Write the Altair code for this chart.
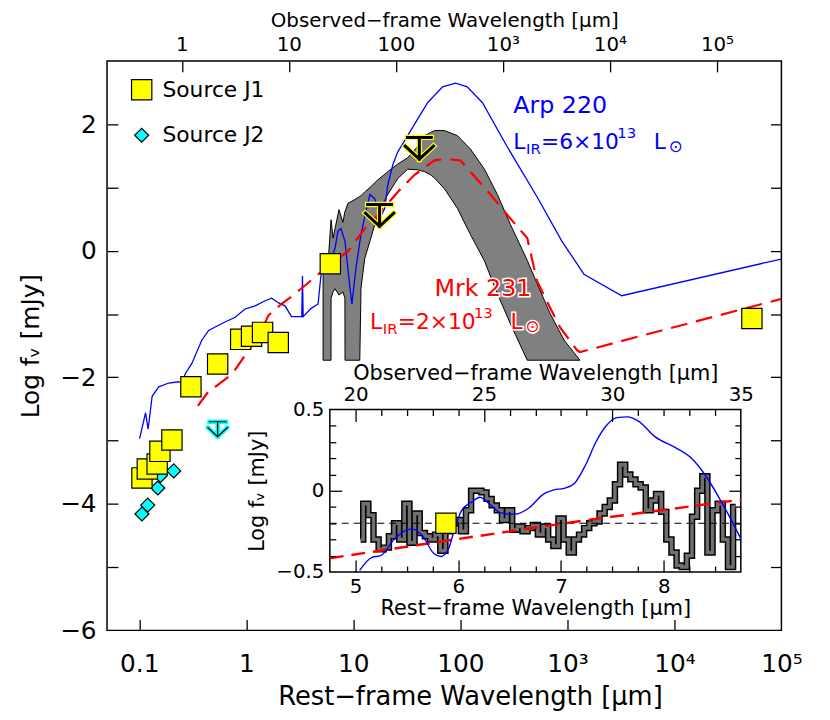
import altair as alt
import pandas as pd

ONE_PLUS_Z = 4.0
FONT = "DejaVu Sans"
W, H = 681, 575

# ---------------- main panel data ----------------
j1_wl = [0.106, 0.119, 0.147, 0.156, 0.202, 0.304, 0.540, 0.887, 1.12, 1.42, 1.99, 6.1, 5.3e4]
j1_logf = [-3.59, -3.45, -3.37, -3.17, -2.99, -2.15, -1.79, -1.40, -1.35, -1.29, -1.45, -0.205, -1.07]
j2_wl = [0.106, 0.120, 0.149, 0.158, 0.21]
j2_logf = [-4.16, -4.02, -3.75, -3.55, -3.48]

ul_j1_wl = [17.6, 41.4]
ul_j1_logf = [0.56, 1.62]
ul_j2_wl = [0.54]
ul_j2_logf = [-2.82]

arp_wl = [0.1007, 0.1146, 0.121, 0.132, 0.152, 0.189, 0.234, 0.249, 0.270, 0.310, 0.385, 0.445,
          0.592, 0.787, 0.975, 1.21, 1.50, 1.73, 1.99, 2.30, 2.65, 3.30, 3.35, 3.40, 4.04, 4.69,
          5.00, 5.81, 6.75, 7.19, 7.67, 8.36, 9.31, 9.71, 10.6, 11.8, 13.1, 14.3, 15.9, 17.7,
          19.7, 21.0, 23.4, 26.0, 32.2, 39.9, 49.5, 68.2, 90.2, 116, 161, 275, 522, 891, 1429,
          3221, 1e5]
arp_logf = [-2.97, -2.56, -2.82, -2.30, -2.15, -2.09, -2.07, -2.09, -1.94, -1.78, -1.41, -1.26,
            -1.15, -1.05, -0.92, -0.87, -0.79, -0.75, -0.82, -0.87, -1.04, -1.04, -0.40, -1.04,
            -0.91, -0.84, -0.37, -0.27, 0.04, 0.31, 0.35, 0.15, -0.59, -0.84, -0.27, 0.26, 0.62,
            0.89, 0.82, 0.51, 0.67, 1.04, 1.36, 1.56, 1.82, 2.08, 2.34, 2.59, 2.65, 2.59, 2.34,
            1.64, 0.85, 0.15, -0.37, -0.71, -0.13]

mrk_wl = [0.353, 0.445, 0.513, 0.682, 0.787, 1.05, 1.39, 1.61, 2.14, 2.85, 4.37, 6.02, 8.91,
          12.8, 18.1, 26.0, 37.4, 57.4, 71.1, 100, 124, 191, 293, 422, 522, 690, 855, 1230,
          1312, 1e5]
mrk_logf = [-2.45, -2.22, -2.15, -1.99, -1.88, -1.57, -1.26, -1.02, -0.84, -0.68, -0.42, -0.21,
            -0.01, 0.35, 0.62, 0.93, 1.20, 1.43, 1.45, 1.43, 1.25, 0.89, 0.51, 0.20, -0.48,
            -0.90, -1.21, -1.57, -1.60, -0.76]

band_wl = [5.22, 5.81, 6.19, 6.20, 6.47, 6.75, 7.35, 8.0, 8.35, 8.37, 8.91, 10.6, 11.5, 11.8,
           12.8, 14.3, 16.9, 19.7, 21.0, 26.0, 32.2, 39.9, 46.4, 52.7, 57.4, 71.1, 94.0, 124,
           168, 222, 293, 422, 522, 690, 931, 1312]
band_hi = [-0.30, -0.20, 0.49, 0.49, 0.20, 0.35, 0.65, 0.45, 0.62, 0.62, 0.75, 0.82, 0.86, 0.87,
           0.93, 1.00, 1.12, 1.21, 1.25, 1.37, 1.47, 1.65, 1.82, 1.87, 1.90, 1.90, 1.82, 1.61,
           1.29, 0.89, 0.42, -0.15, -0.52, -0.99, -1.41, -1.73]
band_lo = [-1.73, -1.73, -1.73, -0.75, -0.65, -0.60, -0.70, -0.65, -0.75, -1.73, -1.73, -1.73,
           -1.73, -0.59, -0.12, 0.15, 0.57, 0.80, 0.89, 1.14, 1.29, 1.28, 1.25, 1.20, 1.15, 0.98,
           0.67, 0.26, -0.16, -0.68, -1.15, -1.73, -1.73, -1.73, -1.73, -1.73]

rest_ticks = [0.1, 1, 10, 100, 1e3, 1e4, 1e5]
obs_ticks = [1, 10, 100, 1e3, 1e4, 1e5]
y_labels = [-6, -4, -2, 0, 2]
y_ticks = [-5, -4, -3, -2, -1, 0, 1, 2]

# annotation anchors (wavelength, log flux)
arp_name_pos = (312, 2.29)
arp_lum_pos = (312, 1.715)
mrk_name_pos = (57.4, -0.60)
mrk_lum_pos = (14.3, -1.13)

# ---------------- inset data ----------------
spec_wl = [5.05, 5.10, 5.15, 5.20, 5.25, 5.30, 5.35, 5.40, 5.45, 5.50, 5.55, 5.60, 5.65, 5.70,
           5.75, 5.80, 5.85, 5.90, 5.95, 6.00, 6.05, 6.10, 6.15, 6.20, 6.25, 6.30, 6.35, 6.40,
           6.45, 6.50, 6.55, 6.60, 6.65, 6.70, 6.75, 6.80, 6.85, 6.90, 6.95, 7.00, 7.05, 7.10,
           7.15, 7.20, 7.25, 7.30, 7.35, 7.40, 7.45, 7.50, 7.55, 7.60, 7.65, 7.70, 7.75, 7.80,
           7.85, 7.90, 7.95, 8.00, 8.05, 8.10, 8.15, 8.20, 8.25, 8.30, 8.35, 8.40, 8.45, 8.50,
           8.55, 8.60, 8.65, 8.70]
spec_logf = [-0.30, -0.08, -0.15, -0.30, -0.36, -0.35, -0.28, -0.20, -0.30, -0.08, -0.32, -0.14,
             -0.26, -0.28, -0.30, -0.27, -0.37, -0.25, -0.20, -0.18, -0.25, -0.12, 0.00, 0.00,
             -0.01, -0.05, -0.09, -0.12, -0.18, -0.12, -0.24, -0.22, -0.25, -0.23, -0.21, -0.27,
             -0.22, -0.30, -0.34, -0.17, -0.30, -0.38, -0.30, -0.27, -0.23, -0.20, -0.19, -0.14,
             -0.10, -0.06, 0.04, 0.16, 0.10, 0.07, 0.04, 0.02, -0.12, -0.06, -0.02, -0.13, -0.30,
             -0.38, -0.46, -0.47, -0.40, -0.16, 0.00, 0.09, -0.38, -0.12, -0.08, -0.30, -0.47,
             -0.10]

inset_arp_wl = [5.04, 5.16, 5.245, 5.38, 5.485, 5.55, 5.66, 5.76, 5.83, 5.90, 5.97, 6.03, 6.14,
                6.21, 6.31, 6.41, 6.55, 6.69, 6.82, 6.93, 7.03, 7.13, 7.24, 7.34, 7.44, 7.545,
                7.65, 7.75, 7.92, 8.10, 8.27, 8.40, 8.54, 8.645, 8.75]
inset_arp_logf = [-0.49, -0.41, -0.40, -0.295, -0.245, -0.235, -0.285, -0.385, -0.405, -0.365,
                  -0.225, -0.125, -0.065, -0.04, -0.085, -0.135, -0.145, -0.105, -0.025, 0.005,
                  0.015, 0.045, 0.16, 0.30, 0.40, 0.45, 0.455, 0.43, 0.33, 0.27, 0.20, 0.10,
                  -0.045, -0.165, -0.295]
inset_mrk_wl = [4.75, 6.5, 7.2, 8.75]
inset_mrk_logf = [-0.415, -0.25, -0.185, -0.055]
inset_level = -0.20
inset_j1_wl = [5.88]
inset_j1_logf = [-0.20]

inset_rest_domain = [4.75, 8.75]
inset_logf_domain = [-0.5, 0.5]
inset_rest_labels = [5, 6, 7, 8]
inset_obs_labels = [20, 25, 30, 35]
inset_minor = [4.75 + 0.25 * k for k in range(1, 16)]
inset_y_labels = [-0.5, 0, 0.5]
inset_y_minor = [round(-0.4 + 0.1 * k, 2) for k in range(9)]

# inset placement inside the main plot area (pixels)
INSET_X = [225, 640]
INSET_Y = [516, 352]

# ---------------- scales ----------------
XS = alt.Scale(type="log", domain=[0.05, 1e5], nice=False)
YS = alt.Scale(domain=[-6, 3], nice=False, zero=False)
IXS = alt.Scale(domain=inset_rest_domain, range=INSET_X, nice=False, zero=False)
IYS = alt.Scale(domain=inset_logf_domain, range=INSET_Y, nice=False, zero=False)

sup = "datum.value {m} < 500 ? format(round(datum.value {m}), 'd') : datum.value {m} < 5000 ? '10³' : datum.value {m} < 50000 ? '10⁴' : '10⁵'"
bottom_expr = "datum.value < 0.5 ? '0.1' : " + sup.format(m="")
top_expr = sup.format(m="* %g" % ONE_PLUS_Z)

TICK = dict(labels=False, domain=False, ticks=True, tickColor="black", tickWidth=1.3,
            title=None, grid=False, zindex=1)
LAB = dict(ticks=False, tickSize=0, domain=False, grid=False, zindex=1, labelOverlap=False,
           labelFlush=False, labelColor="black", titleColor="black", labelFont=FONT,
           titleFont=FONT, titleFontWeight="normal")

ax_bottom = alt.Axis(orient="bottom", values=rest_ticks, labelExpr=bottom_expr, labelFontSize=25,
                     labelPadding=22, title="Rest−frame Wavelength [μm]", titleFontSize=26,
                     titlePadding=7, titleX=W / 2 + 26, **LAB)
ax_bottom_t = alt.Axis(orient="top", offset=-H, values=rest_ticks[:-1], tickSize=11, **TICK)
top_vals = [o / ONE_PLUS_Z for o in obs_ticks]
ax_top = alt.Axis(orient="top", values=top_vals, labelExpr=top_expr, labelFontSize=20,
                  labelPadding=7, title="Observed−frame Wavelength [μm]", titleFontSize=20,
                  titleY=-35, titleBaseline="alphabetic", **LAB)
ax_top_t = alt.Axis(orient="bottom", offset=-H, values=top_vals, tickSize=11, **TICK)
ax_left = alt.Axis(orient="left", values=y_labels, labelFontSize=25, labelPadding=11,
                   title="Log fᵥ [mJy]", titleFontSize=25, titlePadding=16, **LAB)
ax_left_t = alt.Axis(orient="right", offset=-W, values=y_ticks, tickSize=11, **TICK)
ax_right_t = alt.Axis(orient="left", offset=-W, values=y_ticks, tickSize=11, **TICK)

# ---------------- main layers ----------------
band_df = pd.DataFrame({"wl": band_wl, "hi": band_hi, "lo": band_lo})
band = alt.Chart(band_df).mark_area(fill="#808080", stroke="black", strokeWidth=1, opacity=1,
                                    fillOpacity=1).encode(
    x=alt.X("wl:Q", scale=XS, axis=ax_bottom),
    y=alt.Y("hi:Q", scale=YS, axis=ax_left),
    y2="lo:Q",
)

arp = alt.Chart(pd.DataFrame({"wl": arp_wl, "v": arp_logf})).mark_line(
    color="#0000ff", strokeWidth=1.3, clip=True).encode(
    x=alt.X("wl:Q", scale=XS, axis=ax_bottom_t),
    y=alt.Y("v:Q", scale=YS, axis=ax_left_t),
)

mrk = alt.Chart(pd.DataFrame({"wl": mrk_wl, "v": mrk_logf})).mark_line(
    color="#ff0000", strokeWidth=2.2, strokeDash=[17, 9], clip=True).encode(
    x=alt.X("wl:Q", scale=XS, axis=ax_top),
    y=alt.Y("v:Q", scale=YS, axis=ax_right_t),
)

src_domain = ["Source J1", "Source J2"]
pts_df = pd.DataFrame({
    "wl": j2_wl + j1_wl,
    "v": j2_logf + j1_logf,
    "src": ["Source J2"] * len(j2_wl) + ["Source J1"] * len(j1_wl),
})
leg = alt.Legend(orient="none", legendX=24, legendY=18, title=None, labelFontSize=22,
                 labelFont=FONT, labelColor="black", symbolSize=230, symbolStrokeColor="black",
                 symbolStrokeWidth=1.2, rowPadding=22, labelOffset=10, padding=0)
pts = alt.Chart(pts_df).mark_point(filled=True, opacity=1, stroke="black", strokeWidth=1.2).encode(
    x=alt.X("wl:Q", scale=XS, axis=ax_top_t),
    y=alt.Y("v:Q", scale=YS, axis=None),
    color=alt.Color("src:N", scale=alt.Scale(domain=src_domain, range=["#ffff00", "#00ffff"]), legend=leg),
    shape=alt.Shape("src:N", scale=alt.Scale(domain=src_domain, range=["square", "diamond"]), legend=leg),
    size=alt.Size("src:N", scale=alt.Scale(domain=src_domain, range=[420, 200]), legend=None),
)

ARROW = "M -1.1 -1 L 1.1 -1 M 0 -1 L 0 1 M -1.3 -0.2 L 0 1 L 1.3 -0.2"


def limit_layer(wl, lf, size, color, width):
    return alt.Chart(pd.DataFrame({"wl": wl, "v": lf})).mark_point(
        shape=ARROW, size=size, filled=False, opacity=1, stroke=color, strokeWidth=width,
        strokeCap="square").encode(
        x=alt.X("wl:Q", scale=XS, axis=None), y=alt.Y("v:Q", scale=YS, axis=None))


limits = [
    limit_layer(ul_j1_wl, ul_j1_logf, 484, "#ffff00", 5.5),
    limit_layer(ul_j1_wl, ul_j1_logf, 484, "black", 3),
    limit_layer(ul_j2_wl, ul_j2_logf, 225, "#00ffff", 4.5),
    limit_layer(ul_j2_wl, ul_j2_logf, 225, "black", 1.2),
]


def text_layer(pos, text, color, size, dx=0, dy=0, halo=False):
    df = pd.DataFrame({"wl": [pos[0]], "v": [pos[1]], "t": [text]})
    kw = dict(align="left", baseline="middle", dx=dx, dy=dy, font=FONT, fontSize=size)
    if halo:
        kw.update(color="white", stroke="white", strokeWidth=3)
    else:
        kw.update(color=color)
    return alt.Chart(df).mark_text(**kw).encode(
        x=alt.X("wl:Q", scale=XS, axis=None), y=alt.Y("v:Q", scale=YS, axis=None), text="t:N")


def lum_pieces(pos, coeff, color, halo=False):
    pieces = [("L", 0, 0, 22), ("IR", 13, 7, 15), ("=%s×10" % coeff, 28, 0, 22),
              ("13", 105, -9, 15), ("L", 142, 0, 22), ("⊙", 157, 5, 17)]
    return [text_layer(pos, t, color, s, dx, dy, halo) for t, dx, dy, s in pieces]


texts = [text_layer(arp_name_pos, "Arp 220", "#0000ff", 24)]
texts += lum_pieces(arp_lum_pos, "6", "#0000ff")
texts += [text_layer(mrk_name_pos, "Mrk 231", "#ff0000", 24, halo=True),
          text_layer(mrk_name_pos, "Mrk 231", "#ff0000", 24)]
texts += lum_pieces(mrk_lum_pos, "2", "#ff0000", halo=True)
texts += lum_pieces(mrk_lum_pos, "2", "#ff0000")

main = alt.layer(band, arp, mrk, *limits, pts, *texts).resolve_axis(x="independent", y="independent")

# ---------------- inset layers ----------------
iax_bottom = alt.Axis(orient="bottom", offset=-(H - INSET_Y[0]),
                      values=inset_rest_labels, labelFontSize=20, labelPadding=5,
                      title="Rest−frame Wavelength [μm]", titleFontSize=21, titlePadding=1, **LAB)
iax_bottom_t = alt.Axis(orient="top", offset=-INSET_Y[0], values=inset_minor,
                        tickSize={"condition": {"test": "abs(datum.value - round(datum.value)) < 0.001", "value": 12}, "value": 6},
                        **TICK)
inset_top_vals = [o / ONE_PLUS_Z for o in inset_obs_labels]
iax_top = alt.Axis(orient="top", offset=-INSET_Y[1], values=inset_top_vals,
                   labelExpr="format(round(datum.value * %g), 'd')" % ONE_PLUS_Z,
                   labelFontSize=20, labelPadding=5, title="Observed−frame Wavelength [μm]",
                   titleFontSize=21, titlePadding=1, **LAB)
iax_top_t = alt.Axis(orient="bottom", offset=-(H - INSET_Y[1]), values=inset_minor,
                     tickSize={"condition": {"test": "abs(datum.value * %g / 5 - round(datum.value * %g / 5)) < 0.001" % (ONE_PLUS_Z, ONE_PLUS_Z), "value": 12}, "value": 6},
                     **TICK)
iax_left = alt.Axis(orient="left", offset=-INSET_X[0], values=inset_y_labels,
                    labelExpr="datum.value == 0 ? '0' : format(datum.value, '.1f')",
                    labelFontSize=20, labelPadding=6, title="Log fᵥ [mJy]", titleFontSize=21,
                    titlePadding=8, **LAB)
y_major = {"condition": {"test": "abs(datum.value * 2 - round(datum.value * 2)) < 0.001", "value": 12}, "value": 6}
iax_left_t = alt.Axis(orient="right", offset=-(W - INSET_X[0]), values=inset_y_minor, tickSize=y_major, **TICK)
iax_right_t = alt.Axis(orient="left", offset=-INSET_X[1], values=inset_y_minor, tickSize=y_major, **TICK)

box_df = pd.DataFrame({"x0": [inset_rest_domain[0]], "x1": [inset_rest_domain[1]],
                       "y0": [inset_logf_domain[0]], "y1": [inset_logf_domain[1]]})
box = alt.Chart(box_df).mark_rect(fill="white", stroke="black", strokeWidth=1.5).encode(
    x=alt.X("x0:Q", scale=IXS, axis=iax_bottom), x2="x1:Q",
    y=alt.Y("y0:Q", scale=IYS, axis=iax_left), y2="y1:Q",
)

spec_df = pd.DataFrame({"wl": spec_wl, "v": spec_logf})
spec_black = alt.Chart(spec_df).mark_line(interpolate="step", color="black", strokeWidth=6.5).encode(
    x=alt.X("wl:Q", scale=IXS, axis=iax_bottom_t), y=alt.Y("v:Q", scale=IYS, axis=iax_left_t))
spec_gray = alt.Chart(spec_df).mark_line(interpolate="step", color="#707070", strokeWidth=3.5).encode(
    x=alt.X("wl:Q", scale=IXS, axis=iax_top), y=alt.Y("v:Q", scale=IYS, axis=iax_right_t))

level_df = pd.DataFrame({"wl": inset_rest_domain, "v": [inset_level, inset_level]})
level = alt.Chart(level_df).mark_line(color="black", strokeWidth=1.2, strokeDash=[7, 5]).encode(
    x=alt.X("wl:Q", scale=IXS, axis=iax_top_t), y=alt.Y("v:Q", scale=IYS, axis=None))

imrk = alt.Chart(pd.DataFrame({"wl": inset_mrk_wl, "v": inset_mrk_logf})).mark_line(
    color="#ff0000", strokeWidth=2.5, strokeDash=[14, 8]).encode(
    x=alt.X("wl:Q", scale=IXS, axis=None), y=alt.Y("v:Q", scale=IYS, axis=None))
iarp = alt.Chart(pd.DataFrame({"wl": inset_arp_wl, "v": inset_arp_logf})).mark_line(
    color="#0000ff", strokeWidth=1.4, interpolate="monotone").encode(
    x=alt.X("wl:Q", scale=IXS, axis=None), y=alt.Y("v:Q", scale=IYS, axis=None))
isq = alt.Chart(pd.DataFrame({"wl": inset_j1_wl, "v": inset_j1_logf})).mark_point(
    shape="square", size=420, filled=True, fill="#ffff00", stroke="black", strokeWidth=1.2,
    opacity=1).encode(
    x=alt.X("wl:Q", scale=IXS, axis=None), y=alt.Y("v:Q", scale=IYS, axis=None))

inset = alt.layer(box, spec_black, spec_gray, level, imrk, iarp, isq).resolve_axis(
    x="independent", y="independent")

chart = alt.layer(main, inset).resolve_scale(x="independent", y="independent").properties(
    width=W, height=H,
    padding={"left": 100, "top": 50, "right": 41, "bottom": 87},
    autosize=alt.AutoSizeParams(type="none"),
).configure_view(stroke="black", strokeWidth=1.5).configure_axis(grid=False)

chart.save("out.html", embed_options={"renderer": "svg", "actions": False})
